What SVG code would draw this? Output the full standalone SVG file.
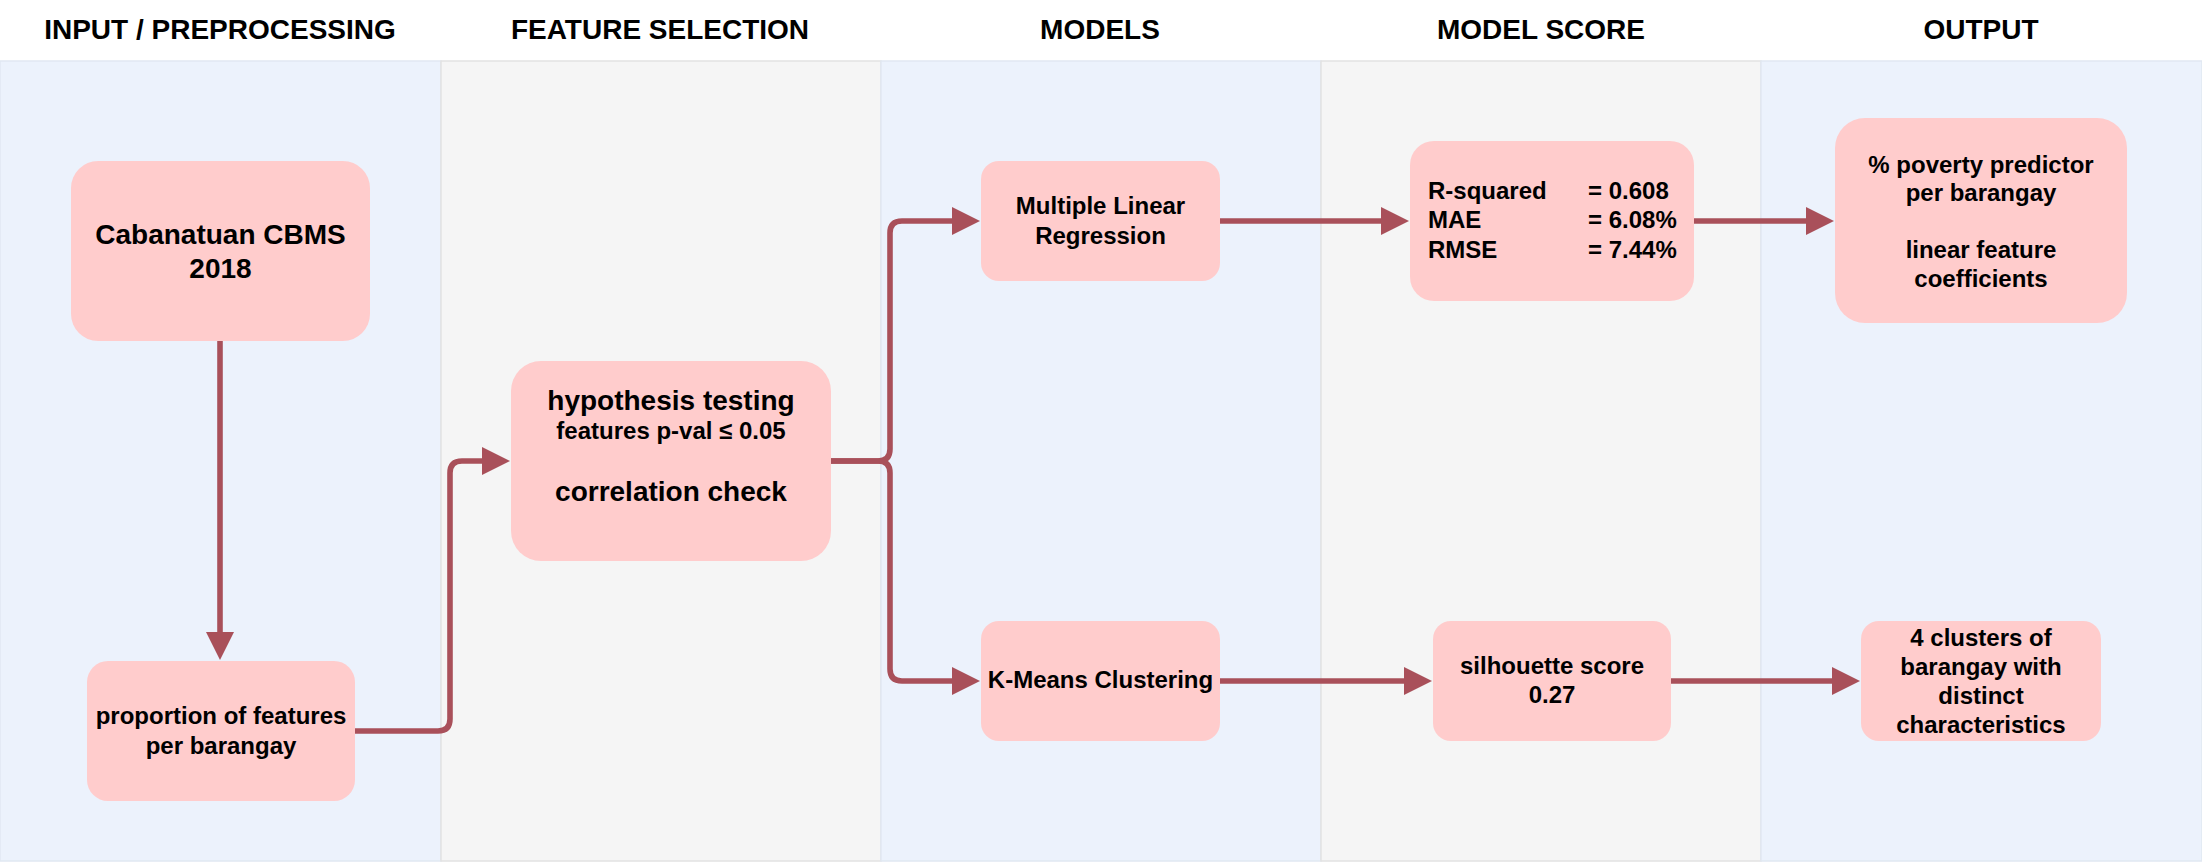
<svg xmlns="http://www.w3.org/2000/svg" width="2202" height="862" viewBox="0 0 2202 862">
<style>
  text { font-family: "Liberation Sans", Arial, Helvetica, sans-serif; font-weight: bold; fill: #000; text-anchor: middle; }
  .hdr { font-size: 28px; }
  .lane-blue { fill: #ecf2fc; stroke: #e1e8f2; stroke-width: 1.5; }
  .lane-gray { fill: #f5f5f5; stroke: #e2e2e2; stroke-width: 1.5; }
  .box { fill: #ffcccc; stroke: none; }
  .t24 { font-size: 24px; }
  .t28 { font-size: 28px; }
  .conn { fill: none; stroke: #a9505a; stroke-width: 5.6; stroke-linejoin: round; marker-end: url(#ah); }
</style>
<defs>
  <marker id="ah" markerUnits="userSpaceOnUse" markerWidth="30" markerHeight="30" viewBox="0 0 30 30" refX="1" refY="14" orient="auto" overflow="visible">
    <path d="M0,0 L28,14 L0,28 Z" fill="#a9505a"/>
  </marker>
</defs>
<rect x="0" y="0" width="2202" height="862" fill="#ffffff"/>

<g id="lanes">
  <rect class="lane-blue" x="0" y="61" width="441" height="800"/>
  <rect class="lane-gray" x="441" y="61" width="440" height="800"/>
  <rect class="lane-blue" x="881" y="61" width="440" height="800"/>
  <rect class="lane-gray" x="1321" y="61" width="440" height="800"/>
  <rect class="lane-blue" x="1761" y="61" width="441" height="800"/>
  <text class="hdr" x="220" y="39">INPUT / PREPROCESSING</text>
  <text class="hdr" x="660" y="39">FEATURE SELECTION</text>
  <text class="hdr" x="1100" y="39">MODELS</text>
  <text class="hdr" x="1541" y="39">MODEL SCORE</text>
  <text class="hdr" x="1981" y="39">OUTPUT</text>
</g>

<g id="connectors">
  <path class="conn" d="M220,341 L220,633"/>
  <path class="conn" d="M355,731 L438,731 Q450,731 450,719 L450,473 Q450,461 462,461 L483,461"/>
  <path class="conn" d="M831,461 L878,461 Q890,461 890,449 L890,233 Q890,221 902,221 L953,221"/>
  <path class="conn" d="M831,461 L878,461 Q890,461 890,473 L890,669 Q890,681 902,681 L953,681"/>
  <path class="conn" d="M1220,221 L1382,221"/>
  <path class="conn" d="M1694,221 L1807,221"/>
  <path class="conn" d="M1220,681 L1405,681"/>
  <path class="conn" d="M1671,681 L1833,681"/>
</g>

<g id="node-cbms">
  <rect class="box" x="71" y="161" width="299" height="180" rx="27" ry="27"/>
  <text class="t28" x="220.5" y="244">Cabanatuan CBMS</text>
  <text class="t28" x="220.5" y="278">2018</text>
</g>

<g id="node-proportion">
  <rect class="box" x="87" y="661" width="268" height="140" rx="21" ry="21"/>
  <text class="t24" x="221" y="724">proportion of features</text>
  <text class="t24" x="221" y="754">per barangay</text>
</g>

<g id="node-hypothesis">
  <rect class="box" x="511" y="361" width="320" height="200" rx="30" ry="30"/>
  <text class="t28" x="671" y="410">hypothesis testing</text>
  <text class="t24" x="671" y="439">features p-val ≤ 0.05</text>
  <text class="t28" x="671" y="501">correlation check</text>
</g>

<g id="node-mlr">
  <rect class="box" x="981" y="161" width="239" height="120" rx="18" ry="18"/>
  <text class="t24" x="1100.5" y="214">Multiple Linear</text>
  <text class="t24" x="1100.5" y="244">Regression</text>
</g>

<g id="node-kmeans">
  <rect class="box" x="981" y="621" width="239" height="120" rx="18" ry="18"/>
  <text class="t24" x="1100.5" y="688">K-Means Clustering</text>
</g>

<g id="node-score">
  <rect class="box" x="1410" y="141" width="284" height="160" rx="24" ry="24"/>
  <text class="t24" x="1428" y="199" style="text-anchor:start">R-squared</text>
  <text class="t24" x="1588" y="199" style="text-anchor:start">= 0.608</text>
  <text class="t24" x="1428" y="228" style="text-anchor:start">MAE</text>
  <text class="t24" x="1588" y="228" style="text-anchor:start">= 6.08%</text>
  <text class="t24" x="1428" y="258" style="text-anchor:start">RMSE</text>
  <text class="t24" x="1588" y="258" style="text-anchor:start">= 7.44%</text>
</g>

<g id="node-silhouette">
  <rect class="box" x="1433" y="621" width="238" height="120" rx="18" ry="18"/>
  <text class="t24" x="1552" y="674">silhouette score</text>
  <text class="t24" x="1552" y="703">0.27</text>
</g>

<g id="node-output-regression">
  <rect class="box" x="1835" y="118" width="292" height="205" rx="30" ry="30"/>
  <text class="t24" x="1981" y="172.5">% poverty predictor</text>
  <text class="t24" x="1981" y="201">per barangay</text>
  <text class="t24" x="1981" y="258">linear feature</text>
  <text class="t24" x="1981" y="286.5">coefficients</text>
</g>

<g id="node-output-clusters">
  <rect class="box" x="1861" y="621" width="240" height="120" rx="18" ry="18"/>
  <text class="t24" x="1981" y="646">4 clusters of</text>
  <text class="t24" x="1981" y="675">barangay with</text>
  <text class="t24" x="1981" y="704">distinct</text>
  <text class="t24" x="1981" y="733">characteristics</text>
</g>
</svg>
